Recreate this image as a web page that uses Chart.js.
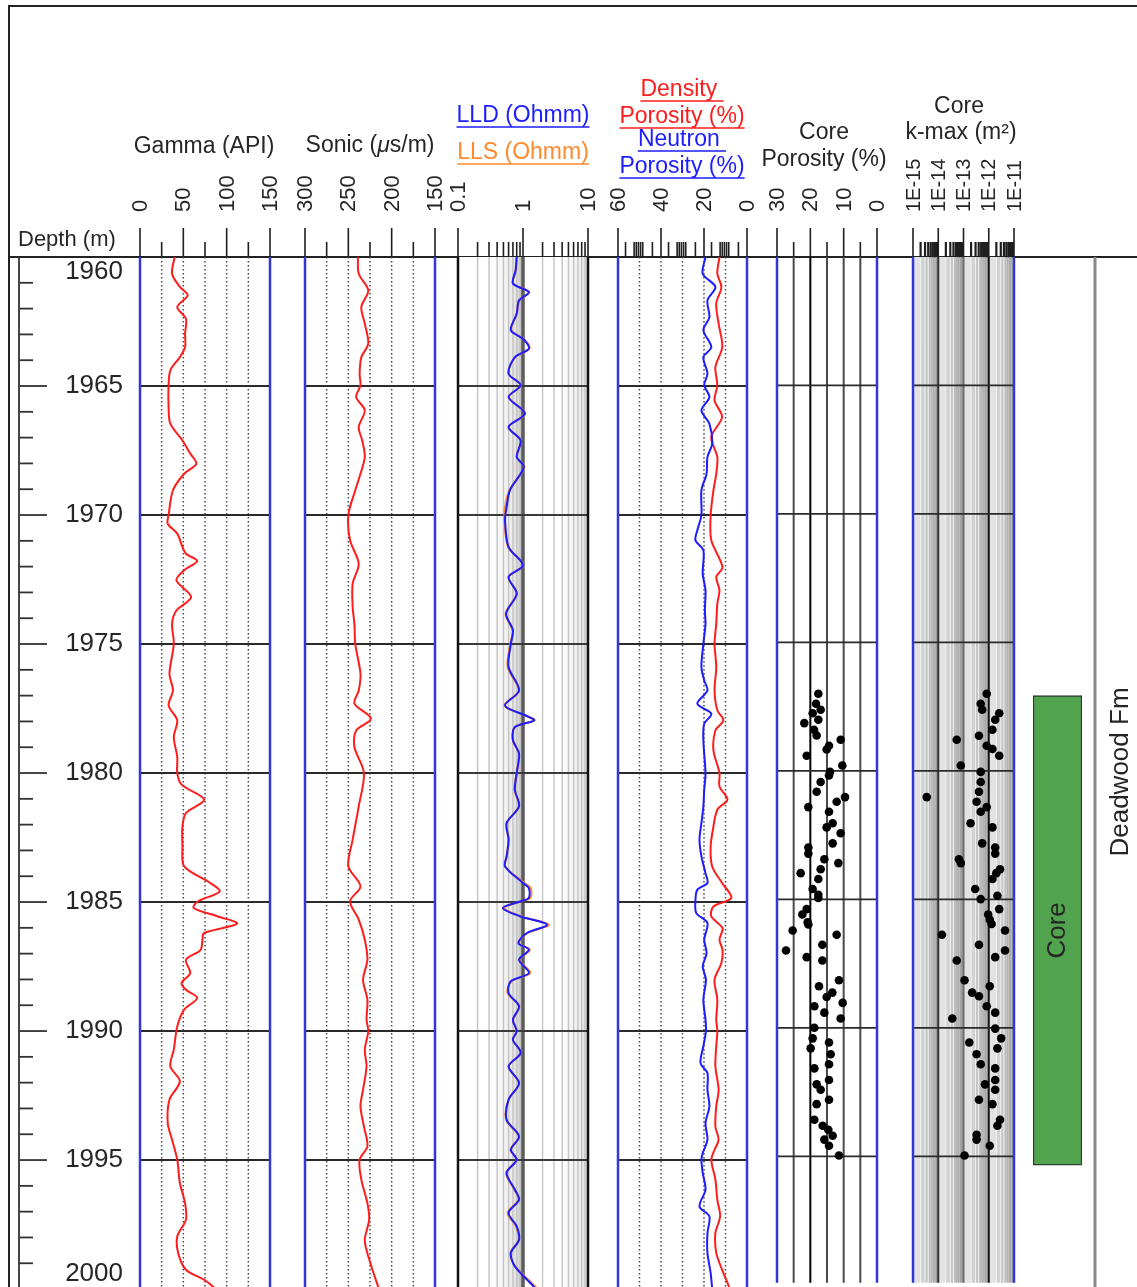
<!DOCTYPE html>
<html>
<head>
<meta charset="utf-8">
<title>Well log</title>
<script src="https://cdn.jsdelivr.net/npm/chart.js@4.4.1/dist/chart.umd.min.js"></script>
<style>
  html, body { margin: 0; padding: 0; background: #fff; }
  #log { position: relative; width: 1137px; height: 1287px; overflow: hidden; }
  #log canvas { position: absolute; left: 0; top: 0; }
</style>
</head>
<body>
<div id="log"></div>
<script>
// Depth interval shown (m)
const depthTop = 1960;
const depthBase = 1999.92;
const depthLabels = [1960, 1965, 1970, 1975, 1980, 1985, 1990, 1995, 2000];

// Gamma ray (API)
const gammaDepth = [1960.0, 1960.65, 1961.16, 1961.49, 1961.94, 1962.39, 1962.97, 1963.49, 1963.88, 1964.39,
  1964.97, 1965.81, 1966.46, 1967.11, 1967.62, 1968.01, 1968.4, 1969.04, 1970.0, 1970.34, 1970.72, 1971.24,
  1971.5, 1971.78, 1972.14, 1972.53, 1973.18, 1973.7, 1974.21, 1974.99, 1976.15, 1976.8, 1977.38, 1977.96,
  1978.6, 1979.38, 1980.0, 1980.45, 1981.03, 1981.55, 1982.07, 1982.84, 1983.62, 1984.26, 1984.59, 1984.97,
  1985.23, 1985.56, 1985.84, 1986.2, 1986.46, 1986.85, 1987.24, 1987.75, 1988.14, 1988.4, 1988.72, 1989.17,
  1989.82, 1990.72, 1991.37, 1991.95, 1992.66, 1993.57, 1994.21, 1994.99, 1995.89, 1996.67, 1997.31, 1997.96,
  1998.6, 1999.25, 1999.64, 1999.96, 2000.3];
const gammaApi = [40, 37, 46, 55, 43, 53, 52, 52, 46, 35,
  33, 33, 35, 49, 58, 65, 51, 38, 33, 32, 43, 49,
  53, 66, 51, 42, 59, 42, 37, 39, 34, 38, 33, 43,
  39, 43, 43, 48, 74, 53, 49, 49, 51, 81, 92, 67,
  62, 90, 112, 74, 72, 70, 53, 58, 48, 53, 66, 51,
  43, 39, 35, 46, 34, 32, 37, 43, 46, 52, 53, 43,
  44, 53, 74, 86, 95];

// Sonic (us/m)
const sonicDepth = [1960.0, 1960.65, 1961.29, 1961.94, 1962.58, 1963.36, 1963.88, 1964.52, 1964.97, 1965.43,
  1965.94, 1966.59, 1967.11, 1967.75, 1968.4, 1969.04, 1970.0, 1970.98, 1971.89, 1972.66, 1973.57, 1974.21,
  1974.99, 1976.15, 1976.8, 1977.31, 1977.89, 1978.35, 1978.99, 1980.0, 1981.29, 1982.58, 1983.62, 1984.39,
  1984.97, 1985.68, 1986.46, 1987.24, 1988.01, 1988.79, 1989.56, 1990.0, 1990.72, 1991.37, 1992.27, 1992.92,
  1993.7, 1994.47, 1994.99, 1995.76, 1996.67, 1997.31, 1998.09, 1998.73, 1999.96, 2000.3];
const sonicDt = [239, 238, 227, 235, 231, 227, 235, 237, 236, 241,
  231, 238, 234, 231, 236, 242, 250, 248, 238, 245, 245, 243,
  242, 236, 238, 243, 224, 241, 243, 232, 238, 245, 250, 236,
  248, 238, 231, 228, 233, 228, 229, 227, 231, 229, 233, 236,
  232, 228, 237, 235, 228, 226, 231, 227, 215, 210];

// Laterolog resistivity (ohm.m)
const resDepth = [1960.0, 1960.52, 1961.03, 1961.36, 1961.68, 1962.2, 1962.84, 1963.17, 1963.55, 1963.88,
  1964.52, 1964.97, 1965.43, 1966.07, 1966.59, 1967.11, 1967.75, 1968.14, 1969.04, 1969.69, 1970.21, 1971.24,
  1971.95, 1972.4, 1973.05, 1973.82, 1974.47, 1974.99, 1975.89, 1976.8, 1977.38, 1977.76, 1977.96, 1978.22,
  1978.73, 1979.25, 1980.0, 1980.65, 1981.29, 1981.94, 1982.58, 1983.23, 1983.62, 1984.26, 1984.46, 1984.84,
  1984.97, 1985.23, 1985.56, 1985.88, 1986.2, 1986.59, 1986.85, 1987.24, 1987.75, 1988.07, 1988.53, 1989.04,
  1989.56, 1990.0, 1990.34, 1990.85, 1991.37, 1992.02, 1992.66, 1993.44, 1994.08, 1994.6, 1994.99, 1995.5,
  1996.15, 1996.54, 1997.05, 1997.57, 1998.09, 1998.6, 1999.12, 1999.96, 2000.3];
const lld = [0.80, 0.77, 0.70, 1.23, 0.87, 0.80, 0.65, 1.00, 1.23, 0.75,
  0.60, 0.92, 0.60, 1.07, 0.60, 0.92, 0.80, 1.03, 0.63, 0.56, 0.53, 0.60,
  1.00, 0.60, 0.80, 0.55, 0.70, 0.65, 0.60, 0.87, 0.53, 1.07, 1.49, 0.75,
  0.70, 0.87, 0.80, 0.75, 0.87, 0.56, 0.60, 0.56, 0.53, 1.00, 1.23, 1.23,
  0.92, 0.49, 0.92, 2.34, 1.15, 0.85, 1.23, 0.87, 1.23, 0.65, 0.60, 0.87,
  0.70, 0.80, 0.70, 0.92, 0.60, 0.87, 0.60, 0.56, 0.87, 0.65, 0.80, 0.56,
  0.75, 0.87, 0.60, 0.80, 0.87, 0.65, 0.75, 1.53, 1.8];
const lls = [0.80, 0.77, 0.71, 1.25, 0.88, 0.80, 0.66, 1.02, 1.26, 0.76,
  0.60, 0.93, 0.61, 1.08, 0.60, 0.92, 0.80, 1.04, 0.62, 0.53, 0.52, 0.59,
  1.01, 0.60, 0.80, 0.54, 0.69, 0.64, 0.58, 0.86, 0.52, 1.06, 1.45, 0.75,
  0.70, 0.86, 0.80, 0.74, 0.86, 0.56, 0.60, 0.56, 0.53, 1.05, 1.32, 1.30,
  0.95, 0.52, 0.95, 2.50, 1.18, 0.86, 1.28, 0.88, 1.30, 0.66, 0.58, 0.88,
  0.70, 0.80, 0.70, 0.92, 0.60, 0.86, 0.60, 0.55, 0.86, 0.64, 0.80, 0.55,
  0.74, 0.85, 0.58, 0.78, 0.86, 0.64, 0.76, 1.62, 1.9];

// Neutron porosity (%)
const neutronDepth = [1960.0, 1960.65, 1961.16, 1961.68, 1962.33, 1962.84, 1963.49, 1963.88, 1964.52, 1964.97,
  1965.43, 1965.94, 1966.46, 1967.24, 1967.75, 1968.4, 1969.04, 1970.0, 1970.59, 1970.98, 1971.37, 1972.27,
  1972.92, 1973.7, 1974.21, 1974.99, 1975.89, 1976.41, 1976.8, 1977.31, 1977.7, 1978.09, 1978.73, 1980.0,
  1980.65, 1981.29, 1981.94, 1982.58, 1983.23, 1983.88, 1984.26, 1984.52, 1984.97, 1985.43, 1985.81, 1986.46,
  1986.98, 1987.49, 1988.01, 1988.79, 1989.56, 1990.0, 1990.59, 1991.24, 1991.63, 1992.27, 1992.92, 1993.57,
  1994.21, 1994.73, 1994.99, 1995.5, 1996.15, 1996.8, 1997.18, 1997.83, 1998.6, 1999.38, 1999.96, 2000.3];
const neutronPor = [19.3, 20.6, 14.7, 18.4, 17.5, 20.3, 16.6, 20.3, 18.4, 19.9,
  17.5, 21.2, 17.5, 16.2, 18.4, 18.8, 21.2, 21.2, 23.1, 24.0, 20.3, 20.6,
  19.3, 19.6, 19.3, 20.3, 21.2, 19.9, 18.4, 23.1, 16.6, 19.9, 20.3, 19.3,
  19.9, 20.3, 21.2, 22.1, 21.2, 19.3, 18.4, 23.1, 24.0, 23.6, 18.4, 19.9,
  18.8, 20.6, 19.1, 20.3, 19.3, 19.1, 20.3, 21.6, 18.4, 18.4, 17.5, 19.3,
  18.4, 20.6, 21.2, 20.6, 19.3, 22.1, 17.5, 18.4, 18.4, 16.9, 16.2, 15.5];

// Density porosity (%)
const densityDepth = [1960.0, 1960.65, 1961.16, 1961.81, 1962.58, 1963.49, 1964.26, 1964.97, 1965.56, 1966.2,
  1966.98, 1967.75, 1968.4, 1969.04, 1970.0, 1970.98, 1972.02, 1972.4, 1972.92, 1973.44, 1974.21, 1974.99,
  1975.89, 1976.8, 1977.57, 1977.96, 1978.35, 1979.12, 1980.0, 1980.52, 1981.03, 1981.42, 1982.07, 1982.84,
  1983.62, 1984.26, 1984.84, 1985.17, 1985.56, 1986.01, 1986.46, 1986.85, 1987.36, 1988.01, 1988.79, 1989.56,
  1990.0, 1990.59, 1991.37, 1992.27, 1992.92, 1993.7, 1994.21, 1994.6, 1994.99, 1995.76, 1996.54, 1997.18,
  1997.83, 1998.6, 1999.25, 1999.96, 2000.3];
const densityPor = [12.8, 13.8, 11.9, 14.3, 13.2, 11.5, 14.7, 13.8, 15.1, 11.6,
  16.6, 13.8, 14.3, 15.6, 16.9, 16.6, 11.4, 14.3, 12.8, 13.8, 14.3, 15.1,
  14.3, 15.1, 13.8, 11.0, 14.7, 15.6, 12.8, 12.8, 9.1, 13.8, 15.6, 16.9,
  16.2, 11.6, 7.3, 15.6, 16.6, 11.4, 12.8, 11.4, 11.9, 15.1, 13.8, 14.3,
  13.8, 14.3, 14.7, 13.2, 14.3, 14.7, 13.2, 15.1, 16.6, 14.7, 13.8, 12.5,
  14.7, 14.3, 11.6, 8.2, 7.5];

// Core plug porosity (%)
const corePorDepth = [1977.0, 1977.39, 1977.62, 1977.76, 1978.01, 1978.14, 1978.4, 1978.62, 1978.79, 1979.02,
  1979.17, 1979.41, 1979.79, 1980.04, 1980.18, 1980.43, 1980.81, 1981.02, 1981.2, 1981.41, 1981.59, 1982.04,
  1982.2, 1982.43, 1982.82, 1982.98, 1983.22, 1983.44, 1983.59, 1983.83, 1983.98, 1984.21, 1984.6, 1984.82,
  1984.95, 1985.38, 1985.59, 1985.89, 1985.98, 1986.21, 1986.38, 1986.77, 1986.99, 1987.25, 1987.38, 1988.15,
  1988.38, 1988.63, 1988.8, 1989.03, 1989.16, 1989.41, 1989.64, 1990.0, 1990.41, 1990.57, 1990.8, 1991.03,
  1991.42, 1991.58, 1992.03, 1992.2, 1992.41, 1992.8, 1992.97, 1993.58, 1993.81, 1993.97, 1994.2, 1994.35,
  1994.59, 1994.97];
const corePor = [17.6, 18.3, 16.9, 19.3, 17.6, 21.8, 18.9, 18.1, 10.9, 14.4,
  15.1, 21.1, 10.4, 14.1, 14.4, 16.9, 18.1, 9.6, 12.1, 20.6, 14.4, 13.3,
  15.1, 10.9, 13.3, 20.6, 20.6, 15.8, 11.6, 16.9, 22.9, 17.6, 19.3, 17.6,
  17.6, 21.1, 22.4, 20.8, 20.6, 25.3, 12.1, 16.4, 27.3, 21.1, 16.4, 11.4,
  17.4, 13.4, 15.1, 10.3, 18.8, 15.8, 10.9, 18.8, 19.3, 14.4, 19.9, 13.9,
  14.4, 18.8, 14.4, 18.1, 16.9, 14.4, 18.1, 18.8, 16.3, 14.6, 13.3, 15.8,
  14.4, 11.4];

// Core maximum permeability (m2)
const kmaxDepth = [1977.0, 1977.39, 1977.62, 1977.76, 1978.01, 1978.4, 1978.63, 1978.79, 1979.02, 1979.15,
  1979.41, 1979.79, 1980.04, 1980.43, 1980.81, 1981.02, 1981.2, 1981.41, 1981.59, 1982.04, 1982.2, 1982.82,
  1982.98, 1983.22, 1983.44, 1983.59, 1983.83, 1983.98, 1984.21, 1984.6, 1984.86, 1984.99, 1985.38, 1985.59,
  1985.79, 1985.96, 1986.21, 1986.38, 1986.77, 1986.99, 1987.25, 1987.38, 1988.15, 1988.38, 1988.63, 1988.77,
  1989.16, 1989.41, 1989.64, 1990.03, 1990.41, 1990.57, 1990.8, 1991.03, 1991.42, 1991.58, 1992.03, 1992.2,
  1992.41, 1992.8, 1992.97, 1993.58, 1993.81, 1994.16, 1994.35, 1994.59, 1994.97];
const kmax = [8.3e-13, 4.8e-13, 5.5e-13, 2.6e-12, 1.8e-12, 1.4e-12, 4.1e-13, 5.4e-14, 8.3e-13, 1.4e-12,
  2.6e-12, 7.8e-14, 4.8e-13, 4.8e-13, 4.1e-13, 3.5e-15, 3.3e-13, 8.3e-13, 4.8e-13, 1.9e-13, 1.4e-12, 5.5e-13,
  1.8e-12, 1.8e-12, 6.6e-14, 7.8e-14, 2.8e-12, 2.0e-12, 1.4e-12, 2.9e-13, 2.2e-12, 4.8e-13, 2.6e-12, 9.5e-13,
  1.1e-12, 1.3e-12, 4.4e-12, 1.4e-14, 4.1e-13, 4.4e-12, 1.8e-12, 5.4e-14, 1.1e-13, 1.1e-12, 2.2e-13, 4.1e-13,
  8.3e-13, 1.8e-12, 3.6e-14, 1.8e-12, 3.1e-12, 1.7e-13, 2.2e-12, 3.3e-13, 4.8e-13, 1.8e-12, 1.8e-12, 7.1e-13,
  1.8e-12, 4.1e-13, 1.4e-12, 2.8e-12, 2.2e-12, 3.3e-13, 3.3e-13, 1.1e-12, 1.1e-13];

// Cored interval and formation
const coreInterval = [1977.0, 1995.2];
const formationName = 'Deadwood Fm';

// Header scale ticks
const gammaTicks = [0, 50, 100, 150];
const gammaMinor = [25, 75, 125];
const sonicTicks = [300, 250, 200, 150];
const sonicMinor = [275, 225, 175];
const resTicks = [0.1, 1, 10];
const resTickLabels = ['0.1', '1', '10'];
const poroTicks = [60, 40, 20, 0];
const poroMinor = [56.5, 52.5, 51.5, 50.5, 49.5, 48.5, 44,
  36.5, 32.5, 31.5, 30.5, 29.5, 28.5, 24,
  16.5, 12.5, 11.5, 10.5, 9.5, 8.5, 4];
const corePorTicks = [30, 20, 10, 0];
const corePorMinor = [25, 15, 5];
const kmaxTicks = [1e-15, 1e-14, 1e-13, 1e-12, 1e-11];
const kmaxTickLabels = ['1E-15', '1E-14', '1E-13', '1E-12', '1E-11'];

// ---------------------------------------------------------------------------
const PAGE_W = 1137, PAGE_H = 1287, HEADER_Y = 257;
const FONT = '"Liberation Sans", Arial, Helvetica, sans-serif';
const INK = '#262626';
const RED = '#ff1c1c', BLUE = '#1c1cff', ORANGE = '#ff8a2e', EDGE = '#3636d6';

const depthScale = { type: 'linear', reverse: true, min: depthTop, max: depthBase, display: false };

function makeCanvas() {
  const c = document.createElement('canvas');
  c.width = PAGE_W;
  c.height = PAGE_H;
  document.getElementById('log').appendChild(c);
  return c;
}

function baseOptions(left, right, xScale) {
  return {
    responsive: false,
    animation: false,
    devicePixelRatio: 1,
    events: [],
    layout: { padding: { left: left, right: PAGE_W - right, top: HEADER_Y, bottom: 0 } },
    scales: { x: Object.assign({ display: false }, xScale), y: depthScale },
    plugins: { legend: { display: false }, tooltip: { enabled: false } }
  };
}

function line(ctx, x0, y0, x1, y1) {
  ctx.beginPath();
  ctx.moveTo(x0, y0);
  ctx.lineTo(x1, y1);
  ctx.stroke();
}

function curve(depths, values, color) {
  return {
    data: depths.map((d, i) => ({ x: values[i], y: d })),
    showLine: true, borderColor: color, borderWidth: 2, pointRadius: 0,
    tension: 0.3, fill: false
  };
}

function dots(depths, values) {
  return {
    data: depths.map((d, i) => ({ x: values[i], y: d })),
    showLine: false, pointRadius: 4.3, pointBackgroundColor: '#000', pointBorderColor: '#000', pointBorderWidth: 0
  };
}

function logMinors(min, max, kMax) {
  const out = [];
  for (let e = Math.round(Math.log10(min)); e < Math.round(Math.log10(max)); e++) {
    for (let k = 2; k <= (kMax || 9); k++) out.push(k * Math.pow(10, e));
  }
  return out;
}

// shaded strips between the log sub-divisions of each decade
function logBands(ctx, xs, area, shades) {
  const e0 = Math.round(Math.log10(xs.min)), e1 = Math.round(Math.log10(xs.max));
  for (let e = e0; e < e1; e++) {
    const pal = shades[Math.min(e - e0, shades.length - 1)];
    for (let k = 1; k <= 9; k++) {
      const a = xs.getPixelForValue(k * Math.pow(10, e));
      const b = xs.getPixelForValue((k + 1) * Math.pow(10, e));
      ctx.fillStyle = pal[k - 1];
      ctx.fillRect(a, area.top, b - a, area.bottom - area.top);
    }
  }
}

function trackPlugin(spec) {
  return {
    id: 'track',
    beforeDatasetsDraw(chart) {
      const { ctx, chartArea: a, scales: { x, y } } = chart;
      ctx.save();
      if (spec.shades) logBands(ctx, x, a, spec.shades);
      (spec.grid || []).forEach(g => {
        ctx.strokeStyle = g.color;
        ctx.lineWidth = g.width;
        ctx.setLineDash(g.dash || []);
        g.values.forEach(v => {
          const px = x.getPixelForValue(v);
          line(ctx, px, a.top, px, a.bottom);
        });
      });
      ctx.setLineDash([]);
      ctx.strokeStyle = spec.hColor || '#2a2a2a';
      ctx.lineWidth = spec.hWidth || 2;
      depthLabels.forEach(d => {
        const py = y.getPixelForValue(d);
        if (py > a.top + 2 && py < a.bottom) line(ctx, a.left, py, a.right, py);
      });
      ctx.restore();
    },
    afterDatasetsDraw(chart) {
      const { ctx, chartArea: a } = chart;
      ctx.save();
      ctx.strokeStyle = spec.edge;
      ctx.lineWidth = 2.5;
      line(ctx, a.left, HEADER_Y, a.left, a.bottom);
      line(ctx, a.right, HEADER_Y, a.right, a.bottom);
      ctx.restore();
    },
    afterDraw(chart) {
      const { ctx, scales: { x } } = chart;
      ctx.save();
      ctx.strokeStyle = '#1e1e1e';
      ctx.lineWidth = 1.6;
      spec.ticks.forEach(v => { const px = x.getPixelForValue(v); line(ctx, px, 228, px, HEADER_Y); });
      ctx.lineWidth = spec.minorWidth || 1.6;
      spec.minor.forEach(v => { const px = x.getPixelForValue(v); line(ctx, px, 242, px, HEADER_Y); });
      ctx.fillStyle = INK;
      ctx.font = (spec.tickFont || 22) + 'px ' + FONT;
      ctx.textAlign = 'left';
      ctx.textBaseline = 'middle';
      spec.ticks.forEach((v, i) => {
        ctx.save();
        ctx.translate(x.getPixelForValue(v) + 1, 212);
        ctx.rotate(-Math.PI / 2);
        ctx.fillText(spec.labels ? spec.labels[i] : String(v), 0, 0);
        ctx.restore();
      });
      ctx.restore();
    }
  };
}

// ---- page frame, depth axis, header titles, formation column
const titles = [
  { text: 'Gamma (API)', x: 204, y: 147 },
  { text: 'LLD (Ohmm)', x: 523, y: 116, color: BLUE, underline: true },
  { text: 'LLS (Ohmm)', x: 523, y: 153, color: ORANGE, underline: true },
  { text: 'Density ', x: 682, y: 90, color: RED, underline: true },
  { text: 'Porosity (%)', x: 682, y: 117, color: RED, underline: true },
  { text: 'Neutron ', x: 682, y: 140, color: BLUE, underline: true },
  { text: 'Porosity (%)', x: 682, y: 167, color: BLUE, underline: true },
  { text: 'Core', x: 824, y: 133 },
  { text: 'Porosity (%)', x: 824, y: 160 },
  { text: 'Core', x: 959, y: 107 },
  { text: 'k-max (m\u00b2)', x: 961, y: 133 }
];

const pagePlugin = {
  id: 'page',
  afterDraw(chart) {
    const ctx = chart.ctx, y = chart.scales.y;
    ctx.save();
    ctx.strokeStyle = '#222';
    ctx.lineWidth = 2;
    ctx.beginPath();
    ctx.moveTo(9, PAGE_H);
    ctx.lineTo(9, 6);
    ctx.lineTo(PAGE_W, 6);
    ctx.stroke();
    line(ctx, 9, HEADER_Y, PAGE_W, HEADER_Y);

    // depth axis
    ctx.strokeStyle = '#333';
    ctx.lineWidth = 1.8;
    line(ctx, 19, HEADER_Y, 19, PAGE_H);
    for (let d = depthTop + 1; d <= depthBase; d++) {
      const py = y.getPixelForValue(d);
      line(ctx, 19, py, d % 5 === 0 ? 47 : 33, py);
    }
    ctx.fillStyle = INK;
    ctx.font = '26px ' + FONT;
    ctx.textAlign = 'right';
    ctx.textBaseline = 'middle';
    depthLabels.forEach(d => {
      const py = Math.min(Math.max(y.getPixelForValue(d), HEADER_Y + 15), PAGE_H - 13);
      ctx.fillText(String(d), 123, py);
    });
    ctx.font = '22px ' + FONT;
    ctx.textAlign = 'left';
    ctx.fillText('Depth (m)', 18, 240);

    // track titles
    ctx.font = '23px ' + FONT;
    ctx.textAlign = 'center';
    titles.forEach(t => {
      ctx.fillStyle = t.color || INK;
      ctx.fillText(t.text, t.x, t.y);
      if (t.underline) {
        const w = ctx.measureText(t.text).width;
        ctx.strokeStyle = t.color;
        ctx.lineWidth = 1.5;
        line(ctx, t.x - w / 2, t.y + 11, t.x + w / 2, t.y + 11);
      }
    });
    // sonic title with the italic mu
    const parts = [['Sonic (', ''], ['\u03bc', 'italic '], ['s/m)', '']];
    let total = 0;
    parts.forEach(p => { ctx.font = p[1] + '23px ' + FONT; total += ctx.measureText(p[0]).width; });
    let px = 370 - total / 2;
    ctx.textAlign = 'left';
    ctx.fillStyle = INK;
    parts.forEach(p => {
      ctx.font = p[1] + '23px ' + FONT;
      ctx.fillText(p[0], px, 146);
      px += ctx.measureText(p[0]).width;
    });

    // formation column
    ctx.strokeStyle = '#8a8a8a';
    ctx.lineWidth = 3;
    line(ctx, 1095, HEADER_Y, 1095, PAGE_H);
    ctx.save();
    ctx.translate(1121, y.getPixelForValue((depthTop + depthBase) / 2));
    ctx.rotate(-Math.PI / 2);
    ctx.textAlign = 'center';
    ctx.font = '26px ' + FONT;
    ctx.fillText(formationName, 0, 0);
    ctx.restore();
    ctx.restore();
  }
};

new Chart(makeCanvas(), {
  type: 'scatter',
  data: { datasets: [] },
  options: baseOptions(9, PAGE_W, { type: 'linear', min: 0, max: 1 }),
  plugins: [pagePlugin]
});

// ---- log tracks (the first dataset of a track is drawn on top)
const DOTS = { color: '#4a4a4a', width: 1.5, dash: [1.5, 2.5] };
const tracks = [
  {
    left: 140, right: 270, x: { type: 'linear', min: 0, max: 150 },
    ticks: gammaTicks, minor: gammaMinor, edge: EDGE,
    grid: [Object.assign({ values: [25, 50, 75, 100, 125] }, DOTS)],
    datasets: [curve(gammaDepth, gammaApi, RED)]
  },
  {
    left: 305, right: 435, x: { type: 'linear', min: 150, max: 300, reverse: true },
    ticks: sonicTicks, minor: sonicMinor, edge: EDGE,
    grid: [Object.assign({ values: [275, 250, 225, 200, 175] }, DOTS)],
    datasets: [curve(sonicDepth, sonicDt, RED)]
  },
  {
    left: 458, right: 588, x: { type: 'logarithmic', min: 0.1, max: 10 },
    ticks: resTicks, minor: logMinors(0.1, 10), labels: resTickLabels, edge: '#111',
    shades: [
      ['#ffffff', '#ffffff', '#fbfbfb', '#f7f7f7', '#f2f2f2', '#ececec', '#e4e4e4', '#d8d8d8', '#c2c2c2'],
      ['#ffffff', '#ffffff', '#ffffff', '#fafafa', '#f6f6f6', '#f2f2f2', '#eeeeee', '#e8e8e8', '#e0e0e0']
    ],
    grid: [
      { values: logMinors(0.1, 10), color: '#c4c4c4', width: 1.4 },
      { values: [1], color: '#5c5c5c', width: 3.5 }
    ],
    hColor: '#3a3a3a',
    datasets: [curve(resDepth, lld, BLUE), curve(resDepth, lls, ORANGE)]
  },
  {
    left: 618, right: 747, x: { type: 'linear', min: 0, max: 60, reverse: true },
    ticks: poroTicks, minor: poroMinor, edge: EDGE,
    grid: [Object.assign({ values: [50, 40, 30, 20, 10] }, DOTS)],
    datasets: [curve(neutronDepth, neutronPor, BLUE), curve(densityDepth, densityPor, RED)]
  },
  {
    left: 777, right: 877, x: { type: 'linear', min: 0, max: 30, reverse: true },
    ticks: corePorTicks, minor: corePorMinor, edge: EDGE,
    grid: [
      { values: [25, 15, 10, 5], color: '#4a4a4a', width: 2 },
      { values: [20], color: '#000', width: 2 }
    ],
    hWidth: 1.8,
    datasets: [dots(corePorDepth, corePor)]
  },
  {
    left: 913, right: 1014, x: { type: 'logarithmic', min: 1e-15, max: 1e-11 },
    ticks: kmaxTicks, minor: logMinors(1e-15, 1e-11), labels: kmaxTickLabels, edge: EDGE,
    tickFont: 20, minorWidth: 2.2,
    shades: [['#e2e2e2', '#d2d2d2', '#c6c6c6', '#bcbcbc', '#b4b4b4', '#acacac', '#a4a4a4', '#9c9c9c', '#949494']],
    grid: [
      { values: logMinors(1e-15, 1e-11, 4), color: '#f2f2f2', width: 1 },
      { values: [1e-14], color: '#333', width: 2 },
      { values: [1e-13], color: '#6a6a6a', width: 2 },
      { values: [1e-12], color: '#111', width: 2 }
    ],
    hWidth: 1.8,
    datasets: [dots(kmaxDepth, kmax)]
  }
];

tracks.forEach(t => {
  new Chart(makeCanvas(), {
    type: 'scatter',
    data: { datasets: t.datasets },
    options: baseOptions(t.left, t.right, t.x),
    plugins: [trackPlugin(t)]
  });
});

// ---- cored interval bar
const coreLabelPlugin = {
  id: 'coreLabel',
  afterDatasetsDraw(chart) {
    const bar = chart.getDatasetMeta(0).data[0];
    const ctx = chart.ctx;
    ctx.save();
    ctx.translate(bar.x, (bar.y + bar.base) / 2);
    ctx.rotate(-Math.PI / 2);
    ctx.fillStyle = INK;
    ctx.font = '26px ' + FONT;
    ctx.textAlign = 'center';
    ctx.textBaseline = 'middle';
    ctx.fillText('Core', 0, 0);
    ctx.restore();
  }
};

new Chart(makeCanvas(), {
  type: 'bar',
  data: {
    labels: ['Core'],
    datasets: [{
      data: [coreInterval],
      backgroundColor: '#52a34e', borderColor: '#2e3b2e', borderWidth: 1.5, borderSkipped: false,
      barPercentage: 1, categoryPercentage: 1
    }]
  },
  options: baseOptions(1033, 1082, { type: 'category' }),
  plugins: [coreLabelPlugin]
});
</script>
</body>
</html>
